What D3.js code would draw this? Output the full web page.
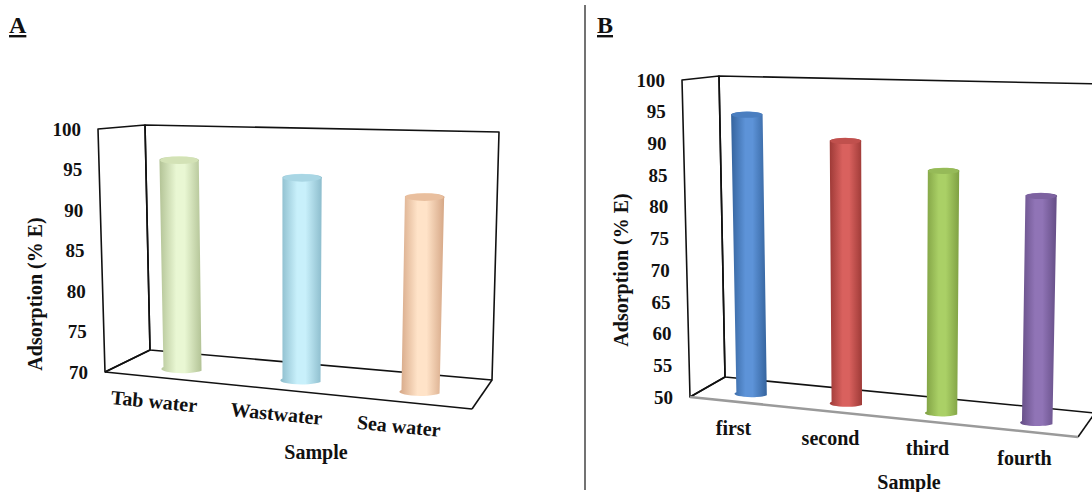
<!DOCTYPE html>
<html>
<head>
<meta charset="utf-8">
<script src="https://cdn.jsdelivr.net/npm/d3@7"></script>
<style>
  body { margin: 0; background: #fff; }
  svg { display: block; }
  text { font-family: "Liberation Serif", "Times New Roman", serif; font-weight: bold; fill: #111; }
</style>
</head>
<body>
<svg id="chart" width="1092" height="492"></svg>
<script>
// ---- data ----
const samplesA = ["Tab water", "Wastwater", "Sea water"];
const adsorptionA = [96.1, 94.5, 92.8];
const domainA = [70, 100];

const samplesB = ["first", "second", "third", "fourth"];
const adsorptionB = [94.4, 90.8, 86.8, 83.7];
const domainB = [50, 100];

const axisTitle = "Adsorption (% E)";
const categoryTitle = "Sample";

// cylinder shading: [edge, highlight, cap]
const shadesA = [
  ["#b3c396", "#e9f7d3", "#d3e2b6"],
  ["#8cbccc", "#c8f0fb", "#a9d6e4"],
  ["#d5a685", "#ffe3c8", "#e9bf9e"]
];
const shadesB = [
  ["#35649e", "#5d93d8", "#4a7ec0"],
  ["#9e3a37", "#d9615e", "#c0504d"],
  ["#7e9f42", "#aad066", "#96ba58"],
  ["#634c84", "#9074b6", "#7d62a0"]
];

const svg = d3.select("#chart");
const defs = svg.append("defs");

const lerp = (a, b, t) => [a[0] + (b[0] - a[0]) * t, a[1] + (b[1] - a[1]) * t];

// Perspective box: front and back faces, each with four corners.
function makeProjection(box) {
  return (u, t, d) => {
    const face = f => lerp(lerp(f.bl, f.br, u), lerp(f.tl, f.tr, u), t);
    return lerp(face(box.front), face(box.back), d);
  };
}

function drawPanel(opt) {
  const g = svg.append("g");
  const P = makeProjection(opt.box);
  const f = opt.box.front, b = opt.box.back;
  const y = d3.scaleLinear().domain(opt.domain).range([0, 1]);
  const x = d3.scaleBand().domain(opt.categories).range([0, 1]);
  const line = d3.line();

  const frame = g.append("g").attr("fill", "none").attr("stroke", "#111")
    .attr("stroke-width", 1.6).attr("stroke-linejoin", "round");
  // side wall
  frame.append("path").attr("d", line([f.bl, f.tl, b.tl, b.bl]) + "Z");
  // back wall
  frame.append("path").attr("d", line([b.bl, b.tl, b.tr, b.br]) + "Z");
  // floor
  g.append("path").attr("d", line([f.bl, f.br]))
    .attr("stroke", opt.frontEdge).attr("stroke-width", opt.frontEdgeWidth).attr("fill", "none");
  frame.append("path").attr("d", line([f.br, b.br]));
  frame.append("path").attr("d", line([f.bl, b.bl]));

  // cylinders
  opt.values.forEach((v, i) => {
    const c = opt.categories[i];
    const uc = x(c) + x.bandwidth() / 2;
    const hw = x.bandwidth() * 0.16;
    const dep = opt.depth;
    const bl = P(uc - hw, 0, dep), br = P(uc + hw, 0, dep);
    const tl = P(uc - hw, y(v), dep), tr = P(uc + hw, y(v), dep);
    const rx = (br[0] - bl[0]) / 2, ry = rx * 0.2;
    const id = opt.id + "g" + i;
    const sh = opt.shades[i];
    const grad = defs.append("linearGradient").attr("id", id)
      .attr("x1", 0).attr("x2", 1).attr("y1", 0).attr("y2", 0);
    grad.append("stop").attr("offset", "0%").attr("stop-color", sh[0]);
    grad.append("stop").attr("offset", "40%").attr("stop-color", sh[1]);
    grad.append("stop").attr("offset", "60%").attr("stop-color", sh[1]);
    grad.append("stop").attr("offset", "100%").attr("stop-color", sh[0]);
    g.append("path")
      .attr("d", `M${tl}L${bl}A${rx},${ry} 0 0 0 ${br}L${tr}A${rx},${ry} 0 0 0 ${tl}Z`)
      .attr("fill", `url(#${id})`);
    const top = lerp(tl, tr, 0.5);
    g.append("ellipse").attr("cx", top[0]).attr("cy", top[1])
      .attr("rx", rx).attr("ry", ry).attr("fill", sh[2]);
  });

  // value tick labels along the front edge of the side wall
  y.ticks(opt.tickCount).forEach(t => {
    const p = P(0, y(t), 0);
    g.append("text").attr("x", p[0] - 17).attr("y", p[1]).attr("dy", "0.35em")
      .attr("text-anchor", "end").attr("font-size", 19).text(t);
  });

  // category labels along the front edge of the floor
  opt.categories.forEach(c => {
    const p = P(x(c) + x.bandwidth() / 2, 0, 0);
    const lx = p[0] + opt.labelOffset[0], ly = p[1] + opt.labelOffset[1];
    g.append("text").attr("x", lx).attr("y", ly).attr("dy", "0.35em")
      .attr("text-anchor", "middle").attr("font-size", 20)
      .attr("transform", `rotate(${opt.labelRotate},${lx},${ly})`).text(c);
  });

  g.append("text").attr("x", opt.sampleXY[0]).attr("y", opt.sampleXY[1]).attr("dy", "0.35em")
    .attr("text-anchor", "middle").attr("font-size", 20).text(categoryTitle);
  g.append("text").attr("transform", `translate(${opt.titleXY})rotate(-90)`).attr("dy", "0.35em")
    .attr("text-anchor", "middle").attr("font-size", 20).text(axisTitle);

  g.append("text").attr("x", opt.letterXY[0]).attr("y", opt.letterXY[1])
    .attr("font-size", 24).attr("text-decoration", "underline").text(opt.letter);
}

drawPanel({
  id: "A", letter: "A", letterXY: [9, 33],
  box: {
    front: { bl: [105, 372], br: [472, 409], tl: [98, 129], tr: [480, 141] },
    back:  { bl: [150, 350], br: [492, 380], tl: [145, 125], tr: [499, 132] }
  },
  categories: samplesA, values: adsorptionA, domain: domainA, tickCount: 6,
  shades: shadesA, depth: 0.4,
  frontEdge: "#111", frontEdgeWidth: 1.6,
  labelOffset: [-12, 23], labelRotate: 5.5,
  sampleXY: [316, 452], titleXY: [35, 294]
});

drawPanel({
  id: "B", letter: "B", letterXY: [597, 33],
  box: {
    front: { bl: [690, 397], br: [1078, 437], tl: [682, 80], tr: [1086, 90] },
    back:  { bl: [725, 377], br: [1095, 413], tl: [719, 76], tr: [1102, 84] }
  },
  categories: samplesB, values: adsorptionB, domain: domainB, tickCount: 10,
  shades: shadesB, depth: 0.4,
  frontEdge: "#9a9a9a", frontEdgeWidth: 2.5,
  labelOffset: [-5, 26], labelRotate: 0,
  sampleXY: [909, 482], titleXY: [621, 270]
});

// divider between the two panels
svg.append("line").attr("x1", 585).attr("x2", 585).attr("y1", 5).attr("y2", 490)
  .attr("stroke", "#444").attr("stroke-width", 1.5);
</script>
</body>
</html>
